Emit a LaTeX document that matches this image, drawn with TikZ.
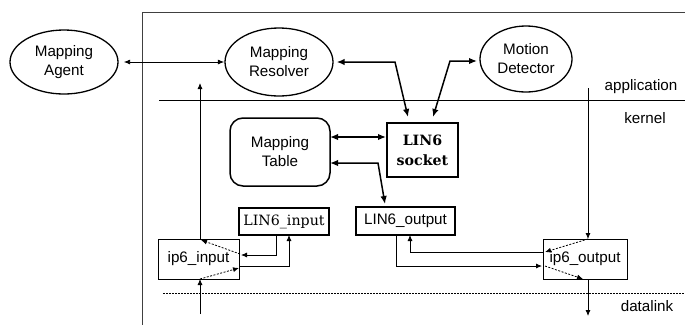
\documentclass[tikz,border=0pt]{standalone}
\usepackage{fontspec}
\setmainfont{Liberation Sans}
\newfontfamily\serifface{DejaVu Serif}
\usetikzlibrary{shapes.geometric,arrows.meta,calc}
\tikzset{
  txt/.style={font=\fontsize{15.2}{19}\selectfont, align=center, inner sep=0pt},
  ell/.style={ellipse, draw, line width=1.3pt, txt},
  thickbox/.style={rectangle, draw, line width=2pt, txt},
  thinbox/.style={rectangle, draw, line width=0.9pt, txt},
  bigarrow/.style={line width=1.5pt, {Latex[length=8pt,width=6.5pt]}-{Latex[length=8pt,width=6.5pt]}},
  thinarrow/.style={line width=0.8pt, -{Latex[length=6pt,width=5pt]}},
  dotarrow/.style={line width=0.8pt, dash pattern=on 2pt off 1.5pt, -{Latex[length=6pt,width=5pt]}},
  frame/.style={line width=0.9pt, draw=black!75},
}
\begin{document}
\begin{tikzpicture}[x=1pt,y=-1pt]
\useasboundingbox (0,0) rectangle (685,325);
% frame and layer lines
\coordinate (fa) at (685,12);
\coordinate (fb) at (142,12);
\coordinate (fc) at (142,325);
\draw[frame] (fa) -- (fb) -- (fc);
\coordinate (la) at (159,100);
\coordinate (lb) at (685,100);
\draw[line width=0.8pt] (la) -- (lb);
\coordinate (da) at (163,293);
\coordinate (db) at (685,293);
\draw[line width=0.9pt, dash pattern=on 1.5pt off 1.5pt] (da) -- (db);
% labels
\node[txt] (app) at (641,87) {application};
\node[txt] (ker) at (645,118) {kernel};
\node[txt] (dl) at (647,306) {datalink};
% nodes
\node[ell, minimum width=108pt, minimum height=64pt] (agent) at (64,62) {Mapping\\Agent};
\node[ell, minimum width=108pt, minimum height=68pt] (resolver) at (279,62) {Mapping\\Resolver};
\node[ell, minimum width=92pt, minimum height=66pt] (motion) at (526,59) {Motion\\Detector};
\node[rectangle, rounded corners=13pt, draw, line width=1.5pt, txt, minimum width=100pt, minimum height=68pt] (table) at (280,152) {Mapping\\Table};
\node[thickbox, minimum width=71pt, minimum height=54pt, font=\serifface\bfseries\fontsize{14.2}{20}\selectfont] (socket) at (422.5,150) {LIN6\\socket};
\node[thickbox, minimum width=90pt, minimum height=27pt, font=\serifface\fontsize{14.2}{17}\selectfont] (lin6in) at (284,221.5) {LIN6\_input};
\node[thickbox, minimum width=99pt, minimum height=28pt] (lin6out) at (405.5,221) {LIN6\_output};
\node[thinbox, minimum width=81pt, minimum height=40pt] (ip6in) at (198.5,259) {ip6\_input};
\node[thinbox, minimum width=84pt, minimum height=40pt] (ip6out) at (585,259) {ip6\_output};
% application-level connectors
\draw[line width=0.9pt, {Latex[length=6.5pt,width=5pt]}-{Latex[length=6.5pt,width=5pt]}, shorten <=5pt] (agent.east) -- (resolver.west);
\coordinate (r1) at (395,62);
\coordinate (s1) at (408,117);
\draw[bigarrow, shorten <=3pt] (resolver.east) -- (r1) -- (s1);
\coordinate (m0) at (477,61);
\coordinate (m1) at (450,61);
\coordinate (s2) at (433,117);
\draw[bigarrow] (m0) -- (m1) -- (s2);
% table connectors
\coordinate (t1) at (330,137);
\coordinate (t2) at (386,137);
\draw[bigarrow] (t1) -- (t2);
\coordinate (t3) at (330,163);
\coordinate (t4) at (378,163);
\coordinate (o1) at (385,204);
\draw[bigarrow] (t3) -- (t4) -- (o1);
% vertical paths
\coordinate (iu) at (200,239);
\coordinate (iu2) at (200,83);
\draw[thinarrow] (iu) -- (iu2);
\coordinate (ib) at (200,314);
\coordinate (ib2) at (200,279);
\draw[thinarrow] (ib) -- (ib2);
\coordinate (ou) at (588,88);
\coordinate (ou2) at (588,239);
\draw[thinarrow] (ou) -- (ou2);
\coordinate (ob) at (588,279);
\coordinate (ob2) at (588,316);
\draw[thinarrow] (ob) -- (ob2);
% ip6_input <-> LIN6_input
\coordinate (a1) at (276,235);
\coordinate (a2) at (276,255);
\coordinate (a3) at (241,255);
\draw[thinarrow] (a1) -- (a2) -- (a3);
\coordinate (b1) at (239,266);
\coordinate (b2) at (289,266);
\coordinate (b3) at (289,235);
\draw[thinarrow] (b1) -- (b2) -- (b3);
\coordinate (c1) at (240,254);
\coordinate (c2) at (201,240);
\draw[dotarrow] (c1) -- (c2);
\coordinate (c3) at (200,279);
\coordinate (c4) at (239,268);
\draw[dotarrow] (c3) -- (c4);
% ip6_output <-> LIN6_output
\coordinate (d1) at (396,235);
\coordinate (d2) at (396,266);
\coordinate (d3) at (542,266);
\draw[thinarrow] (d1) -- (d2) -- (d3);
\coordinate (e1) at (543,252);
\coordinate (e2) at (410,252);
\coordinate (e3) at (410,235);
\draw[thinarrow] (e1) -- (e2) -- (e3);
\coordinate (f1) at (588,239);
\coordinate (f2) at (545,252);
\draw[dotarrow] (f1) -- (f2);
\coordinate (f3) at (545,266);
\coordinate (f4) at (583,279);
\draw[dotarrow] (f3) -- (f4);
\end{tikzpicture}
\end{document}
